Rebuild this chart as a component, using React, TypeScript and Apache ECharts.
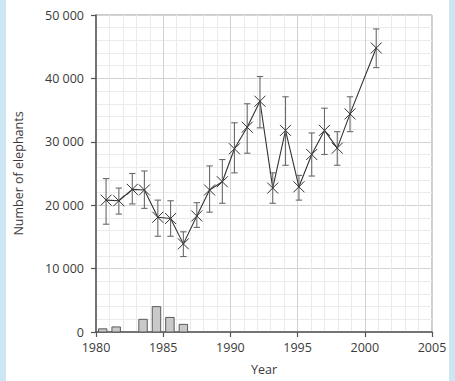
import React, { useEffect, useRef } from "react";
import * as echarts from "echarts";

// Elephant population estimates (with error ranges)
const years = [1980.75, 1981.7, 1982.7, 1983.6, 1984.6, 1985.55, 1986.5, 1987.5, 1988.45, 1989.4, 1990.3, 1991.25, 1992.2, 1993.15, 1994.1, 1995.1, 1996.05, 1997.0, 1997.95, 1998.9, 2000.85];
const counts = [20800, 20700, 22500, 22400, 18100, 17900, 13900, 18300, 22400, 23700, 28900, 32300, 36400, 22700, 31800, 22900, 28000, 31800, 29000, 34400, 44800];
const upper = [24200, 22700, 25000, 25400, 20800, 20700, 15800, 20400, 26200, 27200, 33000, 36000, 40300, 25100, 37100, 24700, 31400, 35300, 31600, 37100, 47800];
const lower = [17000, 18600, 20200, 19500, 15100, 15100, 11900, 16500, 18900, 20300, 25100, 28200, 32200, 20300, 26300, 20800, 24600, 28000, 26300, 31600, 41700];

// Histogram bars near the bottom
const barYears = [1980.5, 1981.5, 1983.5, 1984.5, 1985.5, 1986.5];
const barValues = [500, 800, 2000, 4000, 2300, 1200];

// Axis ticks
const xMin = 1980;
const xMax = 2005;
const xStep = 5;
const yMin = 0;
const yMax = 50000;
const yStep = 10000;

const fmt = (v: number) => (v === 0 ? "0" : String(v).replace(/\B(?=(\d{3})+(?!\d))/g, " "));

export default function App() {
  const ref = useRef<HTMLDivElement>(null);

  useEffect(() => {
    document.body.style.margin = "0";
    if (!ref.current) return;
    const chart = echarts.init(ref.current, undefined, { renderer: "svg" });
    const font = "'Open Sans', 'Noto Sans', sans-serif";
    const dark = "#3a3a3a";

    const option: any = {
      animation: false,
      backgroundColor: "transparent",
      grid: {
        left: 96,
        right: 23,
        top: 15,
        bottom: 46,
        show: true,
        borderColor: "#9a9a9a",
        borderWidth: 1,
        backgroundColor: "transparent",
      },
      xAxis: {
        type: "value",
        min: xMin,
        max: xMax,
        interval: xStep,
        name: "Year",
        nameLocation: "middle",
        nameGap: 31,
        nameTextStyle: { fontFamily: font, fontSize: 12.5, color: dark },
        axisLine: { show: true, lineStyle: { color: "#555", width: 1.5 } },
        axisTick: { show: true, length: 5, lineStyle: { color: "#555", width: 1.2 } },
        axisLabel: { fontFamily: font, fontSize: 12.5, color: dark, margin: 9, formatter: (v: number) => String(v) },
        splitLine: { show: true, lineStyle: { color: "#d2d2d2", width: 1 } },
        minorTick: { show: false, splitNumber: 5 },
        minorSplitLine: { show: true, lineStyle: { color: "#ebebeb", width: 1 } },
      },
      yAxis: {
        type: "value",
        min: yMin,
        max: yMax,
        interval: yStep,
        name: "Number of elephants",
        nameLocation: "middle",
        nameGap: 71,
        nameTextStyle: { fontFamily: font, fontSize: 12.5, color: dark },
        axisLine: { show: true, lineStyle: { color: "#555", width: 1.5 } },
        axisTick: { show: true, length: 5, lineStyle: { color: "#555", width: 1.2 } },
        axisLabel: { fontFamily: font, fontSize: 12.5, color: dark, margin: 12, formatter: fmt },
        splitLine: { show: true, lineStyle: { color: "#d2d2d2", width: 1 } },
        minorTick: { show: false, splitNumber: 5 },
        minorSplitLine: { show: true, lineStyle: { color: "#ebebeb", width: 1 } },
      },
      series: [
        {
          type: "custom",
          name: "bars",
          data: barYears.map((y, i) => [y, barValues[i]]),
          encode: { x: 0, y: 1 },
          z: 3,
          renderItem: (params: any, api: any) => {
            const x = api.value(0);
            const v = api.value(1);
            const top = api.coord([x, v]);
            const base = api.coord([x, 0]);
            const w = api.size([0.63, 0])[0];
            return {
              type: "rect",
              shape: { x: top[0] - w / 2, y: top[1], width: w, height: base[1] - top[1] },
              style: { fill: "#c9c9c9", stroke: "#5a5a5a", lineWidth: 1 },
            };
          },
        },
        {
          type: "line",
          name: "count",
          data: years.map((y, i) => [y, counts[i]]),
          symbol: "none",
          z: 4,
          lineStyle: { color: "#333", width: 1.1 },
        },
        {
          type: "custom",
          name: "errors",
          data: years.map((y, i) => [y, lower[i], upper[i], counts[i]]),
          encode: { x: 0, y: [1, 2, 3] },
          z: 5,
          renderItem: (params: any, api: any) => {
            const x = api.value(0);
            const lo = api.coord([x, api.value(1)]);
            const hi = api.coord([x, api.value(2)]);
            const p = api.coord([x, api.value(3)]);
            const cap = 3.2;
            const m = 5.5;
            const bar = { stroke: "#6a6a6a", lineWidth: 1.1 };
            const mk = { stroke: "#333", lineWidth: 1 };
            return {
              type: "group",
              children: [
                { type: "line", shape: { x1: hi[0], y1: hi[1], x2: lo[0], y2: lo[1] }, style: bar },
                { type: "line", shape: { x1: hi[0] - cap, y1: hi[1], x2: hi[0] + cap, y2: hi[1] }, style: bar },
                { type: "line", shape: { x1: lo[0] - cap, y1: lo[1], x2: lo[0] + cap, y2: lo[1] }, style: bar },
                { type: "line", shape: { x1: p[0] - m, y1: p[1] - m, x2: p[0] + m, y2: p[1] + m }, style: mk },
                { type: "line", shape: { x1: p[0] - m, y1: p[1] + m, x2: p[0] + m, y2: p[1] - m }, style: mk },
              ],
            };
          },
        },
      ],
    };
    chart.setOption(option);
    return () => chart.dispose();
  }, []);

  return (
    <div
      style={{
        position: "fixed",
        left: 0,
        top: 0,
        width: 455,
        height: 381,
        background: "#ffffff",
        overflow: "hidden",
      }}
    >
      <div style={{ position: "absolute", left: 0, top: 0, width: 6, height: 381, background: "#cce6f3" }} />
      <div style={{ position: "absolute", right: 0, top: 0, width: 6, height: 381, background: "#cce6f3" }} />
      <div ref={ref} style={{ position: "absolute", left: 0, top: 0, width: 455, height: 381 }} />
    </div>
  );
}
